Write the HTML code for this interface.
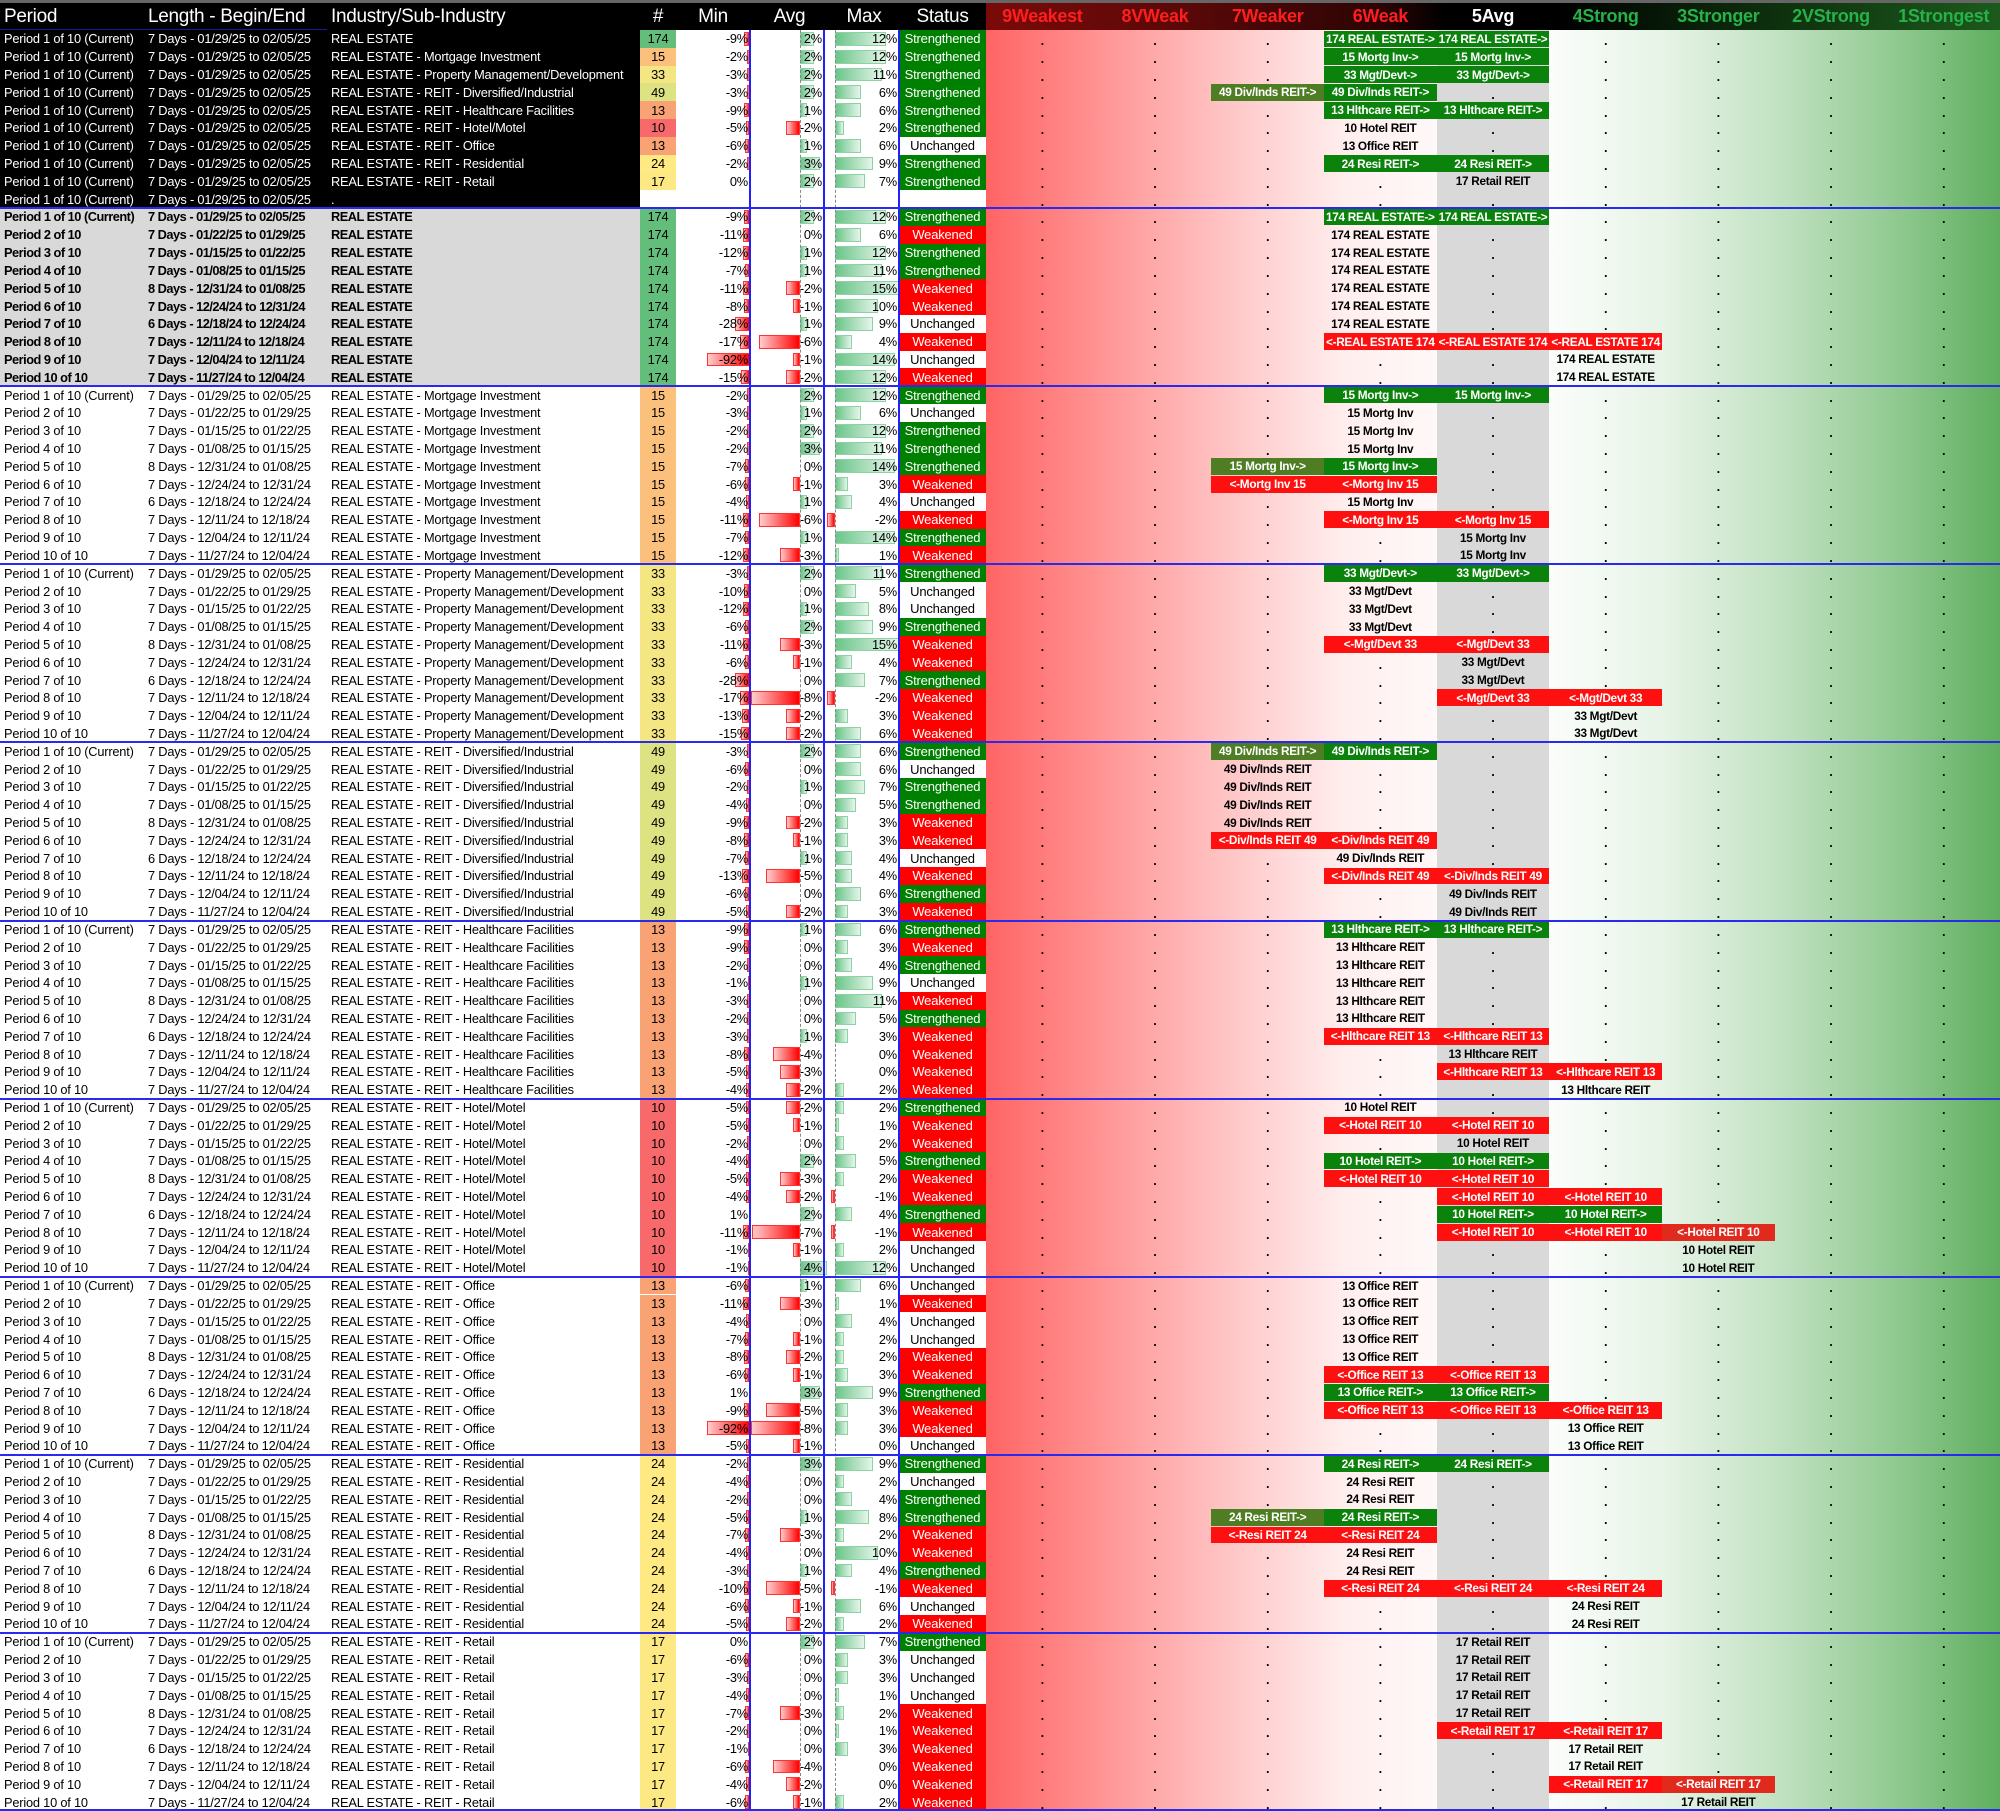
<!DOCTYPE html>
<html><head><meta charset="utf-8">
<style>
html,body{margin:0;padding:0;background:#000;}
#root{position:relative;width:2000px;height:1811px;overflow:hidden;background:#fff;font-family:"Liberation Sans",sans-serif;}
.c{position:absolute;box-sizing:border-box;white-space:nowrap;overflow:visible;font-size:12.8px;letter-spacing:-0.2px;display:flex;align-items:center;}
.h{position:absolute;top:3px;height:27px;display:flex;align-items:center;font-size:19px;white-space:nowrap;letter-spacing:-0.3px;}
.lab{font-weight:bold;font-size:11.8px;letter-spacing:-0.3px;justify-content:center;}
.dot{justify-content:center;font-weight:bold;}
</style></head>
<body>
<div id="root"></div>
<script>
const periods=["Period 1 of 10 (Current)","Period 2 of 10","Period 3 of 10","Period 4 of 10","Period 5 of 10","Period 6 of 10","Period 7 of 10","Period 8 of 10","Period 9 of 10","Period 10 of 10"];
const lengths=["7 Days - 01/29/25 to 02/05/25","7 Days - 01/22/25 to 01/29/25","7 Days - 01/15/25 to 01/22/25","7 Days - 01/08/25 to 01/15/25","8 Days - 12/31/24 to 01/08/25","7 Days - 12/24/24 to 12/31/24","6 Days - 12/18/24 to 12/24/24","7 Days - 12/11/24 to 12/18/24","7 Days - 12/04/24 to 12/11/24","7 Days - 11/27/24 to 12/04/24"];
const industries=["REAL ESTATE","REAL ESTATE - Mortgage Investment","REAL ESTATE - Property Management/Development","REAL ESTATE - REIT - Diversified/Industrial","REAL ESTATE - REIT - Healthcare Facilities","REAL ESTATE - REIT - Hotel/Motel","REAL ESTATE - REIT - Office","REAL ESTATE - REIT - Residential","REAL ESTATE - REIT - Retail"];
const shortNames=["REAL ESTATE","Mortg Inv","Mgt/Devt","Div/Inds REIT","Hlthcare REIT","Hotel REIT","Office REIT","Resi REIT","Retail REIT"];
const counts=[174,15,33,49,13,10,13,24,17];
const countColors=["#63be7b","#fbc07c","#f4e683","#dde283","#f9a274","#f8696b","#f9a274","#fee983","#fde983"];
const ratingHeaders=["9Weakest","8VWeak","7Weaker","6Weak","5Avg","4Strong","3Stronger","2VStrong","1Strongest"];
const sumMin=[-9,-2,-3,-3,-9,-5,-6,-2,0];
const sumAvg=[2,2,2,2,1,-2,1,3,2];
const sumMax=[12,12,11,6,6,2,6,9,7];
const sumStatus="SSSSSSUSS";
const sumRatings=["6g 5g","6g 5g","6g 5g","7g 6g","6g 5g","6p","6p","6g 5g","5p",""];
const mins=[
[-9,-11,-12,-7,-11,-8,-28,-17,-92,-15],
[-2,-3,-2,-2,-7,-6,-4,-11,-7,-12],
[-3,-10,-12,-6,-11,-6,-28,-17,-13,-15],
[-3,-6,-2,-4,-9,-8,-7,-13,-6,-5],
[-9,-9,-2,-1,-3,-2,-3,-8,-5,-4],
[-5,-5,-2,-4,-5,-4,1,-11,-1,-1],
[-6,-11,-4,-7,-8,-6,1,-9,-92,-5],
[-2,-4,-2,-5,-7,-4,-3,-10,-6,-5],
[0,-6,-3,-4,-7,-2,-1,-6,-4,-6]];
const avgs=[
[2,0,1,1,-2,-1,1,-6,-1,-2],
[2,1,2,3,0,-1,1,-6,1,-3],
[2,0,1,2,-3,-1,0,-8,-2,-2],
[2,0,1,0,-2,-1,1,-5,0,-2],
[1,0,0,1,0,0,1,-4,-3,-2],
[-2,-1,0,2,-3,-2,2,-7,-1,4],
[1,-3,0,-1,-2,-1,3,-5,-8,-1],
[3,0,0,1,-3,0,1,-5,-1,-2],
[2,0,0,0,-3,0,0,-4,-2,-1]];
const maxs=[
[12,6,12,11,15,10,9,4,14,12],
[12,6,12,11,14,3,4,-2,14,1],
[11,5,8,9,15,4,7,-2,3,6],
[6,6,7,5,3,3,4,4,6,3],
[6,3,4,9,11,5,3,0,0,2],
[2,1,2,5,2,-1,4,-1,2,12],
[6,1,4,2,2,3,9,3,3,0],
[9,2,4,8,2,10,4,-1,6,2],
[7,3,3,1,2,1,3,0,0,2]];
const statuses=["SWSSWWUWUW","SUSSSWUWSW","SUUSWWSWWW","SUSSWWUWSW","SWSUWSWWWW","SWWSWWSWUU","UWUUWWSWWU","SUSSWWSWUW","SUUUWWWWWW"];
const ratings=[
["6g 5g","6p","6p","6p","6p","6p","6p","6r 5r 4r","4p","4p"],
["6g 5g","6p","6p","6p","7g 6g","7r 6r","6p","6r 5r","5p","5p"],
["6g 5g","6p","6p","6p","6r 5r","5p","5p","5r 4r","4p","4p"],
["7g 6g","7p","7p","7p","7p","7r 6r","6p","6r 5r","5p","5p"],
["6g 5g","6p","6p","6p","6p","6p","6r 5r","5p","5r 4r","4p"],
["6p","6r 5r","5p","6g 5g","6r 5r","5r 4r","5g 4g","5r 4r 3r","3p","3p"],
["6p","6p","6p","6p","6p","6r 5r","6g 5g","6r 5r 4r","4p","4p"],
["6g 5g","6p","6p","7g 6g","7r 6r","6p","6p","6r 5r 4r","4p","4p"],
["5p","5p","5p","5p","5p","5r 4r","4p","4p","4r 3r","3p"]];

const root=document.getElementById('root');
const TOP=30, RH=1781/100, RX=986, RW=(2000-986)/9;
const AVG0=800, MAX0=835;
function el(cls,x,y,w,h,css,txt){const d=document.createElement('div');d.className=cls;d.style.left=x+'px';d.style.top=y+'px';if(w!=null)d.style.width=w+'px';if(h!=null)d.style.height=h+'px';if(css)d.style.cssText+=css;if(txt!=null)d.textContent=txt;root.appendChild(d);return d;}
function yOf(r){return TOP+r*RH;}

let hb=el('',0,0,2000,30,'position:absolute;background:#000;border-top:3px solid #666;box-sizing:border-box;');


let rg=el('',RX,3,2000-RX,27,'position:absolute;background:linear-gradient(to right,#7a0a0a 0,#5a0808 200px,#2a0404 400px,#000 460px,#000 570px,#0c2a0c 760px,#1c5a1c 1014px);');


const leftHeads=[["Period",4,140],["Length - Begin/End",148,180],["Industry/Sub-Industry",331,300]];
leftHeads.forEach(h=>{const d=el('h',h[1],null,h[2],null,'color:#fff;',h[0]);

});
const midHeads=[["#",640,36],["Min",676,74],["Avg",750,79],["Max",829,70],["Status",899,87]];
midHeads.forEach(h=>{const d=el('h',h[1],null,h[2],null,'color:#fff;justify-content:center;',h[0]);

});
ratingHeaders.forEach((t,i)=>{const col=i<4?'#ff1e1e':(i==4?'#fff':'#27b14a');
const d=el('h',RX+i*RW,null,RW,null,'color:'+col+';font-weight:bold;justify-content:center;font-size:18px;',t);

});
let hl=el('',0,29,327,2,'position:absolute;background:#1a1aa0;');



let bg=el('',RX,TOP,2000-RX,1811-TOP,'position:absolute;background:linear-gradient(to right,#ff6464 0,#ff9a9a 130px,#ffcccc 260px,#ffeeee 360px,#fff8f8 450px,#fbfdfb 564px,#e6f3e6 680px,#bfe0bf 800px,#8cc78c 920px,#5fae5f 1014px);');


let avgCol=el('',RX+4*RW,TOP,RW,1811-TOP,'position:absolute;background:#d9d9d9;');



function drawRow(r,period,len,ind,cnt,ccol,mn,av,mx,st,rat,shortName,style){
  const y=yOf(r), h=RH;
  let lbg=style=='sum'?'#000':(style=='re'?'#d9d9d9':'#fff');
  let fc=style=='sum'?'#fff':'#000';
  let fw=style=='re'?'bold':'normal';
  let lb=el('',0,y,640,h,'position:absolute;background:'+lbg+';');
  
  
  [[period,4,'period-cell'],[len,148,'length-cell'],[ind,331,'industry-cell']].forEach(t=>{
    const d=el('c',t[1],y,null,h,'color:'+fc+';font-weight:'+fw+';'+(fw=='bold'?'letter-spacing:-0.5px;':''),t[0]);
    
    
  });
  const cc=el('c',640,y,36,h,'background:'+(cnt===''?'#fff':ccol)+';justify-content:center;color:#000;',cnt===''?'':String(cnt));
  
  
  if(mn!==''){
    const w=Math.min(70,2+Math.abs(mn)*0.45);
    if(mn<0){const b=el('',750-w,y+2,w,h-4,'position:absolute;background:linear-gradient(to left,#f00,#fcc);border:1px solid #f33;box-sizing:border-box;');
    
    }
    const t=el('c',676,y,72,h,'justify-content:flex-end;color:#000;',mn+'%');
    
    
    const aw=Math.abs(av)*6.8;
    if(av>0){const b=el('',AVG0,y+2,aw,h-4,'position:absolute;background:linear-gradient(to right,#6cc58a,#e5f5ea);border:1px solid #8cd3a3;box-sizing:border-box;');
    
    }
    else if(av<0){const w2=Math.min(aw,AVG0-751);const b=el('',AVG0-w2,y+2,w2,h-4,'position:absolute;background:linear-gradient(to left,#f00,#fcc);border:1px solid #f33;box-sizing:border-box;');
    
    }
    const t2=el('c',750,y,72,h,'justify-content:flex-end;color:#000;',av+'%');
    
    
    const mw=Math.abs(mx)*4.25;
    if(mx>0){const b=el('',MAX0,y+2,mw,h-4,'position:absolute;background:linear-gradient(to right,#6cc58a,#e5f5ea);border:1px solid #8cd3a3;box-sizing:border-box;');
    
    }
    else if(mx<0){const b=el('',MAX0-mw,y+2,mw,h-4,'position:absolute;background:linear-gradient(to left,#f00,#fcc);border:1px solid #f33;box-sizing:border-box;');
    
    }
    const t3=el('c',829,y,68,h,'justify-content:flex-end;color:#000;',mx+'%');
    
    
  }
  const stMap={S:['Strengthened','#008000','#fff'],W:['Weakened','#ff0000','#fff'],U:['Unchanged','#fff','#000']};
  const s=st?stMap[st]:['','#fff','#000'];
  const sc=el('c',899,y,87,h,'background:'+s[1]+';color:'+s[2]+';justify-content:center;font-size:13px;',s[0]);
  
  
  const filled={};
  (rat?rat.split(' '):[]).forEach(tok=>{if(tok)filled[9-parseInt(tok[0])]=tok[1];});
  for(let i=0;i<9;i++){
    const x=RX+i*RW;
    if(filled[i]){
      const k=filled[i];
      let txt,bgc='transparent',col='#000';
      if(k=='g'){txt=cnt+' '+shortName+'->';bgc=i<=2?'#4e7d24':'#0b820b';col='#fff';}
      else if(k=='r'){txt='<-'+shortName+' '+cnt;bgc=i>=6?'#e02a1e':'#ff1010';col='#fff';}
      else {txt=cnt+' '+shortName;}
      const d=el('c lab',x,y+0.5,RW,h-1,'background:'+bgc+';color:'+col+';',txt);
      
      
    } else {
      const d=el('c dot',x,y+2,RW,h,'color:#000;','.');
      
      
    }
  }
}

for(let r=0;r<10;r++){
  if(r<9) drawRow(r,periods[0],lengths[0],industries[r],counts[r],countColors[r],sumMin[r],sumAvg[r],sumMax[r],sumStatus[r],sumRatings[r],shortNames[r],'sum');
  else drawRow(r,periods[0],lengths[0],'.','', '#fff','','','','','',"",'sum');
}
for(let b=0;b<9;b++){
  for(let p=0;p<10;p++){
    drawRow(10+b*10+p,periods[p],lengths[p],industries[b],counts[b],countColors[b],mins[b][p],avgs[b][p],maxs[b][p],statuses[b][p],ratings[b][p],shortNames[b],b==0?'re':'norm');
  }
}
[[750,'#2020ff'],[824,'#2020ff'],[899,'#2020ff']].forEach(v=>{const d=el('',v[0]-1,TOP,2,1811-TOP,'position:absolute;background:'+v[1]+';');

});
[AVG0,MAX0].forEach(x=>{const d=el('',x,TOP,0,1811-TOP,'position:absolute;border-left:1px dashed #888;');

});
for(let k=1;k<=10;k++){const y=Math.min(1809,yOf(k*10)-1);
const d=el('',0,y,2000,2,'position:absolute;background:#2a2aee;');

}
</script>
</body></html>
